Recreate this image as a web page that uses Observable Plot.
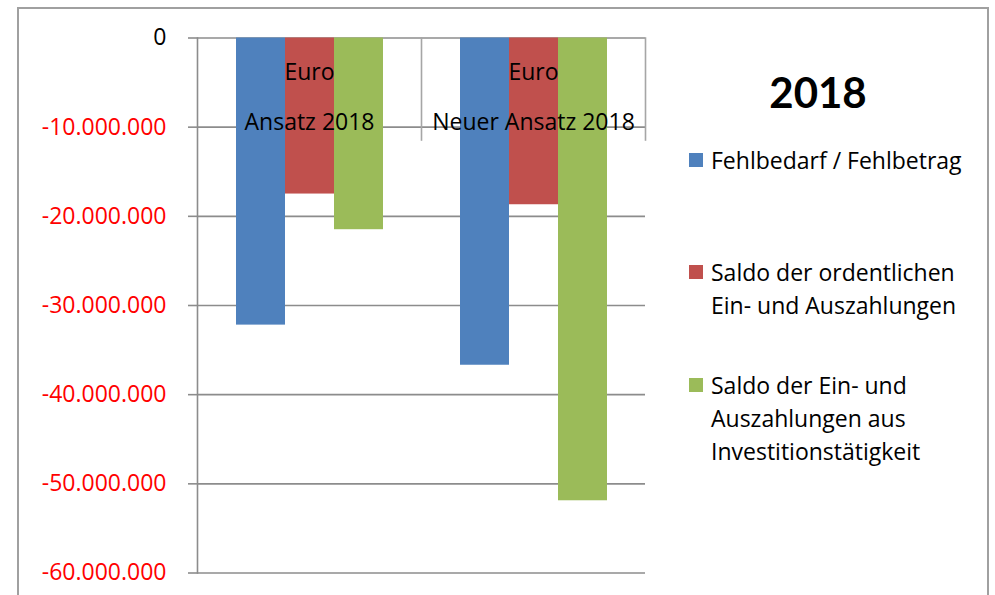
<!DOCTYPE html>
<html><head><meta charset="utf-8">
<script src="https://cdn.jsdelivr.net/npm/d3@7"></script>
<script src="https://cdn.jsdelivr.net/npm/@observablehq/plot@0.6"></script>
<style>
  html,body{margin:0;padding:0;background:#fff;}
  #wrap{position:relative;width:995px;height:595px;overflow:hidden;font-family:"Open Sans",Lato,sans-serif;color:#000;}
  #chart{position:absolute;left:0;top:0;}
  #border{position:absolute;left:17px;top:7px;width:972px;height:640px;border:2px solid #a0a0a0;box-sizing:border-box;pointer-events:none;}
  #title{position:absolute;left:718px;width:200px;top:64px;text-align:center;font-family:Lato,"Open Sans",sans-serif;font-weight:bold;font-size:42px;line-height:56px;}
  .item{position:absolute;left:689px;font-size:23px;line-height:33px;}
  .item .sw{position:absolute;left:0;top:9px;width:14px;height:14px;}
  .item .lab{margin-left:22px;white-space:pre;}
</style>
</head><body>
<div id="wrap">
  <div id="chart"></div>
  <div id="title"></div>
  <div id="legend"></div>
  <div id="border"></div>
</div>
<script>
// ---- data ----
const categories = ["Ansatz 2018", "Neuer Ansatz 2018"];
const categoryUnit = ["Euro", "Euro"];
const series = [
  "Fehlbedarf / Fehlbetrag",
  "Saldo der ordentlichen Ein- und Auszahlungen",
  "Saldo der Ein- und Auszahlungen aus Investitionstätigkeit"
];
const legendLines = [
  "Fehlbedarf / Fehlbetrag",
  "Saldo der ordentlichen\nEin- und Auszahlungen",
  "Saldo der Ein- und\nAuszahlungen aus\nInvestitionstätigkeit"
];
const seriesColors = ["#4f81bd", "#c0504d", "#9bbb59"];
const fehlbedarf = [-32200000, -36700000];
const saldoOrdentlich = [-17500000, -18700000];
const saldoInvestition = [-21500000, -51900000];
const yTicks = [0, -10000000, -20000000, -30000000, -40000000, -50000000, -60000000];
const yTickLabels = ["0", "-10.000.000", "-20.000.000", "-30.000.000", "-40.000.000", "-50.000.000", "-60.000.000"];
const chartTitle = "2018";

// ---- build table ----
const valuesBySeries = [fehlbedarf, saldoOrdentlich, saldoInvestition];
const rows = [];
categories.forEach((c, i) => series.forEach((s, j) => rows.push({category: c, series: s, value: valuesBySeries[j][i]})));
const labelOf = v => yTickLabels[yTicks.indexOf(v)];
const gridColor = "#8c8c8c";
const font = "'Open Sans', Lato, sans-serif";

const plot = Plot.plot({
  width: 995, height: 595,
  marginLeft: 196, marginRight: 350, marginTop: 37.5, marginBottom: 22.5,
  style: {fontFamily: font, fontSize: "23px", background: "transparent", overflow: "visible"},
  fx: {domain: categories, padding: 0, axis: null, label: null},
  x: {domain: series, paddingInner: 0, paddingOuter: 0.75, axis: null, label: null},
  y: {domain: [-60000000, 0], axis: null, label: null},
  color: {domain: series, range: seriesColors},
  marks: [
    Plot.gridY(yTicks, {stroke: gridColor, strokeOpacity: 1, strokeWidth: 1.6}),
    Plot.frame({anchor: "right", insetBottom: 433, stroke: "#a6a6a6", strokeWidth: 1.6}),
    Plot.barY(rows, {fx: "category", x: "series", y: "value", fill: "series"}),
    Plot.frame({anchor: "left", stroke: gridColor, strokeWidth: 1.6, facetAnchor: "left"}),
    Plot.axisY(yTicks.filter(v => v === 0), {label: null, tickSize: 9, tickPadding: 22, stroke: gridColor, strokeWidth: 1.6, fill: "black", tickFormat: labelOf, fontSize: 23}),
    Plot.axisY(yTicks.filter(v => v !== 0), {label: null, tickSize: 9, tickPadding: 22, stroke: gridColor, strokeWidth: 1.6, fill: "#ff0000", tickFormat: labelOf, fontSize: 23}),
    Plot.text(categories, {fx: d => d, text: (d, i) => categoryUnit[i], frameAnchor: "top", lineAnchor: "middle", dy: 35, fill: "black", fontSize: 23}),
    Plot.text(categories, {fx: d => d, text: d => d, frameAnchor: "top", lineAnchor: "middle", dy: 85, fill: "black", fontSize: 23})
  ]
});
document.getElementById("chart").appendChild(plot);
document.getElementById("title").textContent = chartTitle;

const legendTops = [144, 256, 369];
const legend = document.getElementById("legend");
series.forEach((s, j) => {
  const item = document.createElement("div");
  item.className = "item";
  item.style.top = legendTops[j] + "px";
  const sw = document.createElement("div");
  sw.className = "sw";
  sw.style.background = seriesColors[j];
  const lab = document.createElement("div");
  lab.className = "lab";
  lab.textContent = legendLines[j];
  item.appendChild(sw); item.appendChild(lab);
  legend.appendChild(item);
});
</script>
</body></html>
